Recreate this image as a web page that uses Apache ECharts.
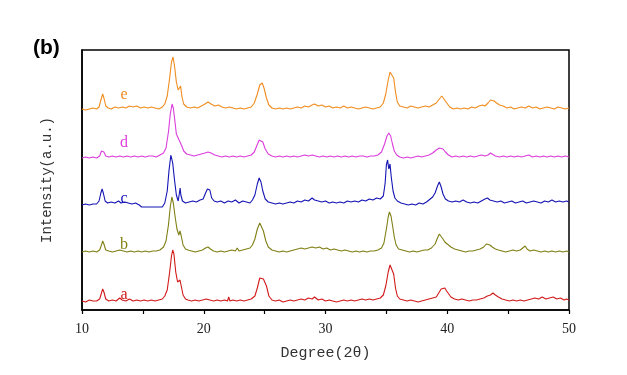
<!DOCTYPE html>
<html>
<head>
<meta charset="utf-8">
<script src="https://cdn.jsdelivr.net/npm/echarts@6/dist/echarts.min.js"></script>
<style>
  html, body { margin: 0; padding: 0; background: #fff; }
  #main { width: 627px; height: 375px; }
</style>
</head>
<body>
<div id="main"></div>
<script>
// XRD 图谱 (b)，五条曲线上下错开
var sampleNames = ['a', 'b', 'c', 'd', 'e'];
var sampleColors = ['#d21919', '#7f7f14', '#1414b4', '#dc3cdc', '#f08c1e'];
var offsets = [8, 57, 105, 152, 200];
var xTicks = [10, 20, 30, 40, 50];

var patternA = [[10,1],[10.3,0],[10.6,2],[10.9,1],[11.2,1],[11.45,3],[11.6,9],[11.7,13],[11.8,10],[11.95,3],[12.2,1],[12.5,2],[12.8,1],[13.1,4],[13.3,2],[13.6,1],[13.9,3],[14.2,1],[14.5,2],[14.8,1],[15.1,2],[15.4,1],[15.7,2],[16,1],[16.3,2],[16.6,3],[16.8,6],[17,12],[17.2,30],[17.35,46],[17.45,52],[17.55,48],[17.7,30],[17.85,20],[17.95,18],[18.05,22],[18.15,16],[18.3,7],[18.5,3],[18.7,2],[19,1],[19.3,2],[19.6,1],[19.9,2],[20.2,3],[20.5,2],[20.8,1],[21.1,2],[21.4,1],[21.7,2],[21.95,1],[22.05,5],[22.15,1],[22.4,2],[22.7,1],[23,2],[23.3,1],[23.6,2],[23.9,3],[24.2,6],[24.4,14],[24.6,24],[24.75,25],[24.9,23],[25,25],[25.15,16],[25.35,6],[25.6,2],[25.9,1],[26.2,2],[26.5,0],[26.8,1],[27.1,2],[27.4,1],[27.7,2],[28,3],[28.3,2],[28.6,4],[28.9,3],[29.1,5],[29.4,2],[29.7,3],[30,1],[30.3,2],[30.6,1],[30.9,0],[31.2,1],[31.5,2],[31.8,1],[32.1,2],[32.4,1],[32.7,2],[33,3],[33.3,2],[33.6,3],[33.9,2],[34.2,3],[34.5,4],[34.75,7],[34.95,16],[35.15,30],[35.3,37],[35.45,36],[35.6,28],[35.75,14],[35.9,6],[36.1,3],[36.4,2],[36.7,1],[37,2],[37.3,1],[37.6,0],[37.9,1],[38.2,2],[38.5,3],[38.8,4],[39.1,5],[39.3,9],[39.5,13],[39.65,15],[39.8,14],[39.95,11],[40.1,9],[40.3,5],[40.6,3],[40.9,2],[41.2,3],[41.5,2],[41.8,1],[42.1,2],[42.4,2],[42.7,3],[43,4],[43.3,6],[43.55,7],[43.75,9],[43.95,7],[44.2,5],[44.5,3],[44.8,2],[45.1,1],[45.4,2],[45.7,1],[46,2],[46.3,1],[46.6,2],[46.9,3],[47.2,4],[47.5,3],[47.8,5],[48.1,3],[48.4,4],[48.7,5],[49,3],[49.3,4],[49.6,2],[49.8,3],[50,2]];

var patternB = [[10,1],[10.3,2],[10.6,1],[10.9,2],[11.2,1],[11.45,3],[11.6,8],[11.7,12],[11.8,9],[11.95,3],[12.2,2],[12.5,1],[12.8,2],[13.1,3],[13.4,2],[13.7,1],[14,2],[14.3,1],[14.6,2],[14.9,1],[15.2,2],[15.5,1],[15.8,2],[16.1,2],[16.4,3],[16.7,6],[16.9,12],[17.1,28],[17.25,46],[17.38,56],[17.5,50],[17.65,36],[17.8,24],[17.95,18],[18.05,22],[18.15,17],[18.3,8],[18.5,4],[18.7,3],[19,2],[19.3,1],[19.6,2],[19.9,3],[20.15,5],[20.35,6],[20.55,4],[20.8,2],[21.1,1],[21.4,2],[21.7,1],[22,2],[22.3,3],[22.6,2],[22.75,5],[22.9,2],[23.2,3],[23.5,4],[23.8,5],[24,8],[24.2,14],[24.4,24],[24.6,30],[24.75,28],[24.9,22],[25.1,12],[25.3,6],[25.6,3],[25.9,2],[26.2,1],[26.5,2],[26.8,1],[27.1,2],[27.4,3],[27.7,4],[28,5],[28.3,4],[28.6,5],[28.9,6],[29.2,5],[29.5,6],[29.8,4],[30.1,5],[30.4,3],[30.7,4],[31,3],[31.3,2],[31.6,3],[31.9,2],[32.2,1],[32.5,2],[32.8,1],[33.1,2],[33.4,1],[33.7,2],[34,2],[34.3,3],[34.6,5],[34.8,10],[35,24],[35.15,36],[35.25,41],[35.38,37],[35.5,28],[35.65,16],[35.8,8],[36,4],[36.3,3],[36.6,2],[36.9,1],[37.2,2],[37.5,1],[37.8,2],[38.1,3],[38.4,3],[38.7,5],[39,9],[39.2,15],[39.35,19],[39.5,17],[39.65,14],[39.8,11],[40,9],[40.3,6],[40.6,4],[40.9,3],[41.2,2],[41.5,1],[41.8,2],[42.1,2],[42.4,3],[42.7,4],[43,6],[43.2,9],[43.35,10],[43.5,8],[43.7,6],[43.95,4],[44.2,3],[44.5,2],[44.8,1],[45.1,2],[45.4,3],[45.7,2],[46,3],[46.2,5],[46.4,7],[46.55,4],[46.8,2],[47.1,3],[47.4,2],[47.7,1],[48,2],[48.3,1],[48.6,2],[48.9,1],[49.2,2],[49.5,1],[49.8,2],[50,1]];

var patternC = [[10,0],[10.3,1],[10.6,0],[10.9,1],[11.2,1],[11.4,4],[11.55,12],[11.65,16],[11.75,12],[11.9,4],[12.1,2],[12.4,3],[12.7,2],[13,4],[13.2,2],[13.5,3],[13.8,2],[14.1,1],[14.4,2],[14.7,0],[14.9,-2],[15.5,-2],[16.2,-2],[16.6,-2],[16.8,2],[17,14],[17.15,35],[17.3,50],[17.45,42],[17.6,25],[17.75,10],[17.9,4],[18,12],[18.06,17],[18.12,10],[18.25,4],[18.5,2],[18.8,3],[19.1,4],[19.4,3],[19.7,5],[19.95,6],[20.15,12],[20.3,16],[20.5,15],[20.65,7],[20.85,4],[21.1,3],[21.4,4],[21.7,2],[22,4],[22.3,3],[22.6,5],[22.9,2],[23.2,4],[23.5,3],[23.8,2],[24,5],[24.2,10],[24.4,21],[24.55,27],[24.7,23],[24.85,14],[25.05,6],[25.3,3],[25.6,2],[25.9,1],[26.2,2],[26.5,1],[26.8,2],[27.1,3],[27.4,2],[27.7,4],[28,3],[28.3,5],[28.6,4],[28.9,7],[29.1,5],[29.4,4],[29.7,3],[30,4],[30.3,2],[30.6,3],[30.9,2],[31.2,3],[31.5,2],[31.8,4],[32.1,3],[32.4,4],[32.7,3],[33,5],[33.3,4],[33.6,6],[33.9,5],[34.2,7],[34.5,6],[34.75,9],[34.9,22],[35,40],[35.1,45],[35.2,36],[35.3,41],[35.4,28],[35.55,14],[35.7,7],[35.9,4],[36.2,2],[36.5,1],[36.8,0],[37.1,1],[37.4,0],[37.7,2],[38,1],[38.3,3],[38.6,6],[38.8,8],[39,12],[39.2,19],[39.35,23],[39.5,18],[39.65,11],[39.85,6],[40.1,4],[40.4,3],[40.7,4],[41,3],[41.3,5],[41.6,3],[41.9,2],[42.2,3],[42.5,2],[42.8,4],[43.1,6],[43.3,7],[43.5,5],[43.8,4],[44.1,3],[44.4,4],[44.7,2],[45,3],[45.3,4],[45.6,2],[45.9,3],[46.2,4],[46.5,2],[46.8,3],[47.1,4],[47.4,3],[47.7,2],[48,4],[48.3,3],[48.6,5],[48.9,3],[49.2,4],[49.5,3],[49.8,4],[50,3]];

var patternD = [[10,0],[10.3,1],[10.6,0],[10.9,1],[11.2,0],[11.45,2],[11.6,7],[11.7,9],[11.8,6],[11.95,2],[12.2,1],[12.5,2],[12.8,1],[13.1,2],[13.4,1],[13.7,2],[14,1],[14.3,2],[14.6,1],[14.9,2],[15.2,1],[15.5,2],[15.8,2],[16.1,1],[16.4,3],[16.7,5],[16.9,10],[17.1,26],[17.25,44],[17.4,54],[17.5,50],[17.62,38],[17.75,24],[17.9,20],[18.05,19],[18.2,12],[18.35,7],[18.6,4],[18.9,3],[19.2,2],[19.5,3],[19.8,4],[20.1,5],[20.35,6],[20.6,5],[20.9,3],[21.2,2],[21.5,1],[21.8,2],[22.1,1],[22.4,2],[22.7,1],[23,2],[23.3,1],[23.6,2],[23.9,3],[24.15,6],[24.35,12],[24.55,18],[24.7,19],[24.85,16],[25.05,9],[25.3,4],[25.6,2],[25.9,1],[26.2,2],[26.5,1],[26.8,2],[27.1,1],[27.4,2],[27.7,1],[28,2],[28.3,3],[28.6,2],[28.9,3],[29.2,2],[29.5,1],[29.8,2],[30.1,1],[30.4,2],[30.7,1],[31,2],[31.3,1],[31.6,2],[31.9,1],[32.2,2],[32.5,1],[32.8,2],[33.1,2],[33.4,1],[33.7,2],[34,2],[34.3,3],[34.6,6],[34.85,14],[35.05,22],[35.2,25],[35.35,22],[35.5,14],[35.65,7],[35.85,3],[36.1,1],[36.4,0],[36.7,1],[37,0],[37.3,1],[37.6,2],[37.9,1],[38.2,2],[38.5,3],[38.8,5],[39.1,8],[39.35,10],[39.5,11],[39.65,9],[39.85,6],[40.1,3],[40.4,1],[40.7,2],[41,1],[41.3,2],[41.6,1],[41.9,2],[42.2,1],[42.5,2],[42.8,3],[43.1,2],[43.35,3],[43.55,5],[43.7,3],[43.95,2],[44.3,1],[44.6,2],[44.9,1],[45.2,2],[45.5,1],[45.8,2],[46.1,1],[46.4,2],[46.7,3],[47,1],[47.3,2],[47.6,1],[47.9,2],[48.2,1],[48.5,2],[48.8,1],[49.1,2],[49.4,1],[49.7,2],[50,1]];

var patternE = [[10,1],[10.3,0],[10.6,1],[10.9,2],[11.2,1],[11.4,3],[11.55,10],[11.7,16],[11.8,12],[11.95,4],[12.15,2],[12.4,1],[12.7,3],[13,2],[13.3,3],[13.6,2],[13.9,4],[14.2,3],[14.5,4],[14.8,2],[15.1,3],[15.4,2],[15.7,3],[16,2],[16.3,1],[16.6,3],[16.8,6],[17,14],[17.2,32],[17.35,48],[17.48,53],[17.6,44],[17.75,28],[17.9,20],[18,22],[18.1,24],[18.2,14],[18.35,6],[18.6,3],[18.9,2],[19.2,3],[19.5,2],[19.8,4],[20.1,6],[20.35,8],[20.6,6],[20.9,4],[21.2,5],[21.5,3],[21.8,2],[22.1,3],[22.4,2],[22.7,1],[23,2],[23.3,1],[23.6,2],[23.9,3],[24.15,7],[24.4,16],[24.6,25],[24.8,27],[24.95,22],[25.15,12],[25.35,5],[25.6,2],[25.9,1],[26.2,2],[26.5,1],[26.8,2],[27.1,1],[27.4,2],[27.7,3],[28,2],[28.3,4],[28.6,3],[28.9,5],[29.1,6],[29.4,4],[29.7,5],[30,3],[30.3,4],[30.6,2],[30.9,3],[31.2,2],[31.5,4],[31.8,2],[32.1,3],[32.4,2],[32.7,1],[33,2],[33.3,3],[33.6,2],[33.9,1],[34.2,2],[34.5,3],[34.75,7],[34.95,16],[35.15,30],[35.3,38],[35.45,40],[35.6,32],[35.75,18],[35.9,8],[36.1,4],[36.4,3],[36.7,2],[37,4],[37.3,3],[37.6,2],[37.9,3],[38.2,4],[38.5,3],[38.8,5],[39.1,7],[39.35,11],[39.55,14],[39.7,13],[39.85,9],[40,7],[40.2,3],[40.5,1],[40.8,2],[41.1,1],[41.4,2],[41.7,1],[42,3],[42.3,2],[42.6,4],[42.9,5],[43.1,4],[43.35,7],[43.55,10],[43.7,12],[43.85,9],[44.05,7],[44.3,5],[44.6,4],[44.9,2],[45.2,3],[45.5,1],[45.8,2],[46.1,3],[46.4,2],[46.7,4],[47,2],[47.3,3],[47.6,1],[47.9,2],[48.2,3],[48.5,2],[48.8,1],[49.1,3],[49.4,2],[49.7,1],[50,2]];

var patterns = [patternA, patternB, patternC, patternD, patternE];
// 曲线旁字母的高度（相对基线）
var labelLift = [7, 8, 6, 15, 15];

var myChart = echarts.init(document.getElementById('main'));

var series = patterns.map(function (p, i) {
    return {
        name: sampleNames[i],
        type: 'line',
        showSymbol: false,
        symbol: 'none',
        lineStyle: {width: 1.1, color: sampleColors[i]},
        itemStyle: {color: sampleColors[i]},
        data: p.map(function (pt) { return [pt[0], pt[1] + offsets[i]]; }),
        markPoint: {
            symbol: 'circle',
            symbolSize: 1,
            itemStyle: {color: 'rgba(0,0,0,0)'},
            label: {
                show: true,
                position: 'inside',
                formatter: sampleNames[i],
                color: sampleColors[i],
                fontFamily: 'Liberation Serif',
                fontSize: 16
            },
            data: [{coord: [13.45, offsets[i] + labelLift[i]]}]
        }
    };
});

myChart.setOption({
    animation: false,
    grid: {
        left: 82, right: 58, top: 50, bottom: 65,
        show: true, borderColor: '#000', borderWidth: 1.5
    },
    xAxis: {
        type: 'value',
        min: 10, max: 50, interval: 5,
        name: 'Degree(2θ)',
        nameLocation: 'middle',
        nameGap: 36,
        nameTextStyle: {fontFamily: 'Liberation Mono', fontSize: 15, color: '#333'},
        axisLine: {lineStyle: {color: '#000', width: 1.5}},
        axisTick: {show: true, inside: false, length: 4, lineStyle: {color: '#000', width: 1.2}},
        axisLabel: {
            margin: 12,
            fontFamily: 'Liberation Serif',
            fontSize: 14,
            color: '#222',
            formatter: function (v) { return xTicks.indexOf(v) >= 0 ? String(v) : ''; }
        },
        splitLine: {show: false}
    },
    yAxis: {
        type: 'value',
        min: 0, max: 260,
        name: 'Intensity(a.u.)',
        nameLocation: 'middle',
        nameGap: 28,
        nameTextStyle: {fontFamily: 'Liberation Mono', fontSize: 14, color: '#333'},
        axisLine: {show: true, lineStyle: {color: '#000', width: 1.5}},
        axisTick: {show: false},
        axisLabel: {show: false},
        splitLine: {show: false}
    },
    graphic: [{
        type: 'text',
        left: 33, top: 38,
        style: {text: '(b)', font: 'bold 21px "Liberation Sans", Arial', fill: '#000'}
    }],
    series: series
});
</script>
</body>
</html>
